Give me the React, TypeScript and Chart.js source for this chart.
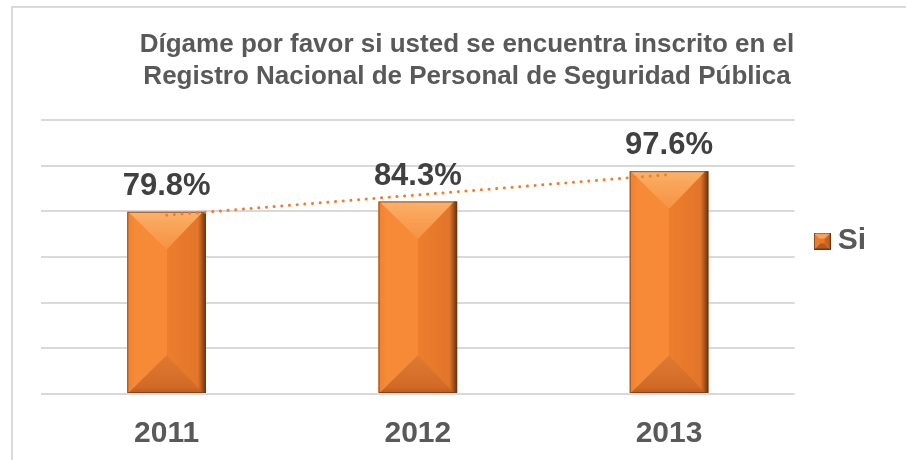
import React, { useEffect, useRef } from "react";
import { Chart, registerables } from "chart.js";

Chart.register(...registerables);

const categories = ["2011", "2012", "2013"];
const siValues = [79.8, 84.3, 97.6];
const trendValues = [78.3, 87.2, 96.1];
const seriesName = "Si";
const trendName = "Lineal (Si)";
const titleLines = [
  "Dígame por favor si usted se encuentra inscrito en el",
  "Registro Nacional de Personal de Seguridad Pública",
];
const yMin = 0;
const yMax = 120;
const yStep = 20;

const FONT = "'Liberation Sans', Arial, sans-serif";

function tri(ctx: CanvasRenderingContext2D, pts: number[], fill: string | CanvasGradient) {
  ctx.beginPath();
  ctx.moveTo(pts[0], pts[1]);
  ctx.lineTo(pts[2], pts[3]);
  ctx.lineTo(pts[4], pts[5]);
  ctx.closePath();
  ctx.fillStyle = fill;
  ctx.fill();
}

function drawBevelBar(ctx: CanvasRenderingContext2D, l: number, t: number, r: number, b: number) {
  const w = r - l;
  const h = b - t;
  if (w <= 0 || h <= 0) return;
  const cx = (l + r) / 2;
  const d = Math.min(w * 0.48, h / 2);
  ctx.save();
  let g = ctx.createLinearGradient(l, 0, r, 0);
  g.addColorStop(0, "#EF812F");
  g.addColorStop(0.1, "#F68A36");
  g.addColorStop(0.5, "#F68A37");
  g.addColorStop(0.5, "#EC7E2E");
  g.addColorStop(0.9, "#E2752A");
  g.addColorStop(0.95, "#A9561D");
  g.addColorStop(1, "#5E3313");
  ctx.fillStyle = g;
  ctx.fillRect(l, t, w, h);

  g = ctx.createLinearGradient(0, t, 0, t + d);
  g.addColorStop(0, "#FBB26E");
  g.addColorStop(0.3, "#F9A65B");
  g.addColorStop(1, "#F69244");
  tri(ctx, [l + 1, t, r - 3, t, cx, t + d], g);

  g = ctx.createLinearGradient(0, b - d, 0, b);
  g.addColorStop(0, "#E07A32");
  g.addColorStop(0.85, "#D06A26");
  g.addColorStop(1, "#B95B20");
  tri(ctx, [l + 1, b, r - 3, b, cx, b - d], g);

  ctx.strokeStyle = "rgba(110,55,20,0.7)";
  ctx.lineWidth = 1;
  ctx.strokeRect(l + 0.5, t + 0.5, w - 1, h - 1);
  ctx.restore();
}

function makeLegendImage(): HTMLCanvasElement {
  const s = 17;
  const c = document.createElement("canvas");
  c.width = s;
  c.height = s;
  const g = c.getContext("2d")!;
  const m = s / 2;
  tri(g, [0, 0, s, 0, m, m], "#F9A35A");
  tri(g, [s, 0, s, s, m, m], "#C9621F");
  tri(g, [0, s, s, s, m, m], "#B7581C");
  tri(g, [0, 0, 0, s, m, m], "#EB7C2C");
  g.fillStyle = "#E8782A";
  g.fillRect(m - 2.5, m - 2.5, 5, 5);
  g.strokeStyle = "#6B3915";
  g.lineWidth = 1;
  g.strokeRect(0.5, 0.5, s - 1, s - 1);
  return c;
}

const bevelPlugin = {
  id: "bevelBars",
  afterDatasetDraw(chart: any, args: any) {
    if (args.index !== 0) return;
    const ctx = chart.ctx;
    const meta = chart.getDatasetMeta(0);
    meta.data.forEach((el: any) => {
      const p = el.getProps(["x", "y", "base", "width"], true);
      drawBevelBar(ctx, p.x - p.width / 2, p.y, p.x + p.width / 2, p.base);
    });
  },
};

const valueLabelPlugin = {
  id: "valueLabels",
  afterDatasetsDraw(chart: any) {
    const ctx = chart.ctx;
    const meta = chart.getDatasetMeta(0);
    ctx.save();
    ctx.font = `bold 31px ${FONT}`;
    ctx.fillStyle = "#404040";
    ctx.textAlign = "center";
    ctx.textBaseline = "alphabetic";
    meta.data.forEach((el: any, i: number) => {
      ctx.fillText(siValues[i].toFixed(1) + "%", el.x, el.y - 17);
    });
    ctx.restore();
  },
};

export default function App() {
  const ref = useRef<HTMLCanvasElement | null>(null);

  useEffect(() => {
    if (!ref.current) return;
    const legendImg = makeLegendImage();
    const chart = new Chart(ref.current, {
      type: "bar",
      data: {
        labels: categories,
        datasets: [
          {
            type: "bar",
            label: seriesName,
            data: siValues,
            backgroundColor: "#F58A37",
            borderWidth: 0,
            categoryPercentage: 1,
            barPercentage: 0.313,
            order: 1,
          },
          {
            type: "line",
            label: trendName,
            data: trendValues,
            borderColor: "#F07F2C",
            borderWidth: 3,
            borderDash: [0.1, 7.6],
            borderCapStyle: "round",
            pointRadius: 0,
            fill: false,
            order: 0,
          } as any,
        ],
      },
      options: {
        responsive: false,
        animation: false,
        devicePixelRatio: 1,
        layout: { padding: { left: 28, right: 26, top: 0, bottom: 17 } },
        scales: {
          x: {
            grid: { display: false, drawTicks: false },
            border: { display: false },
            ticks: {
              color: "#595959",
              padding: 22,
              font: { family: FONT, size: 30, weight: "bold" },
            },
          },
          y: {
            min: yMin,
            max: yMax,
            ticks: { display: false, stepSize: yStep },
            grid: { color: "#D9D9D9", lineWidth: 2, drawTicks: false },
            border: { display: false },
          },
          spacer: {
            type: "linear",
            position: "right",
            weight: 1500,
            display: true,
            grid: { display: false, drawTicks: false },
            ticks: { display: false },
            border: { display: false },
            afterFit: (scale: any) => {
              scale.width = 17;
            },
          } as any,
        },
        plugins: {
          tooltip: { enabled: false },
          title: {
            display: true,
            text: titleLines,
            color: "#595959",
            font: { family: FONT, size: 26, weight: "bold", lineHeight: 1.22 },
            padding: { top: 21, bottom: 27.6 },
          },
          legend: {
            position: "right",
            labels: {
              filter: (item: any) => item.datasetIndex === 0,
              usePointStyle: true,
              pointStyle: legendImg as any,
              pointStyleWidth: 1,
              padding: 27,
              color: "#595959",
              font: { family: FONT, size: 30, weight: "bold" },
            },
          },
        },
      },
      plugins: [bevelPlugin, valueLabelPlugin],
    });
    return () => chart.destroy();
  }, []);

  return (
    <div
      style={{
        position: "fixed",
        left: 0,
        top: 0,
        width: 906,
        height: 460,
        overflow: "hidden",
        background: "#ffffff",
      }}
    >
      <div
        style={{
          position: "absolute",
          left: 11,
          top: 6,
          width: 1000,
          height: 600,
          borderLeft: "2px solid #D9D9D9",
          borderTop: "2px solid #D9D9D9",
        }}
      />
      <canvas
        ref={ref}
        width={906}
        height={483}
        style={{ position: "absolute", left: 13, top: 8, width: 906, height: 483, display: "block" }}
      />
    </div>
  );
}
